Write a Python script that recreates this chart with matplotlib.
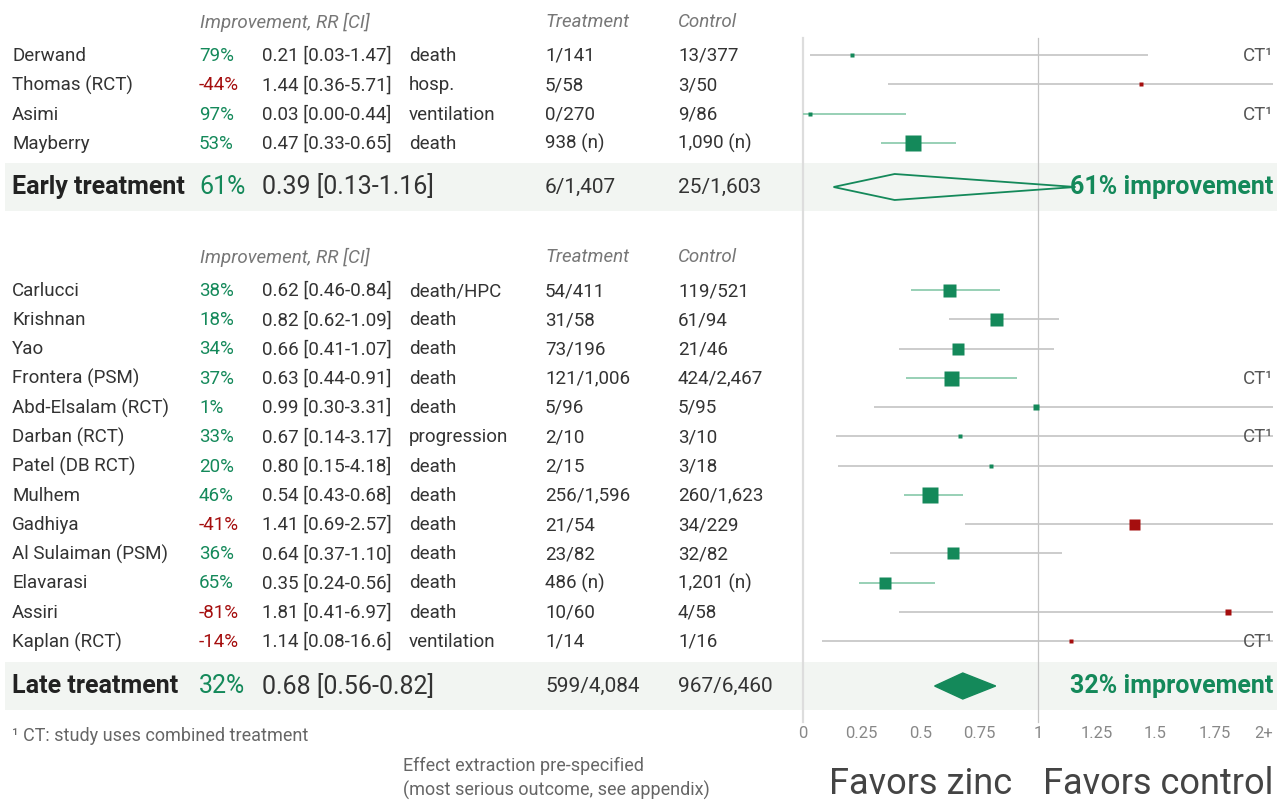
import matplotlib
matplotlib.use("Agg")
from matplotlib import pyplot as plt
from matplotlib.patches import Polygon

plt.rcParams['font.family'] = ['Roboto', 'DejaVu Sans']

# early treatment studies
early_names = ["Derwand", "Thomas (RCT)", "Asimi", "Mayberry"]
early_rr = [0.21, 1.44, 0.03, 0.47]
early_lo = [0.03, 0.36, 0.00, 0.33]
early_hi = [1.47, 5.71, 0.44, 0.65]
early_outcome = ["death", "hosp.", "ventilation", "death"]
early_treat = ["1/141", "5/58", "0/270", "938 (n)"]
early_ctrl = ["13/377", "3/50", "9/86", "1,090 (n)"]
early_ct = [True, False, True, False]
early_weight = [4, 5, 4, 16]

# late treatment studies
late_names = ["Carlucci", "Krishnan", "Yao", "Frontera (PSM)", "Abd-Elsalam (RCT)",
              "Darban (RCT)", "Patel (DB RCT)", "Mulhem", "Gadhiya", "Al Sulaiman (PSM)",
              "Elavarasi", "Assiri", "Kaplan (RCT)"]
late_rr = [0.62, 0.82, 0.66, 0.63, 0.99, 0.67, 0.80, 0.54, 1.41, 0.64, 0.35, 1.81, 1.14]
late_lo = [0.46, 0.62, 0.41, 0.44, 0.30, 0.14, 0.15, 0.43, 0.69, 0.37, 0.24, 0.41, 0.08]
late_hi = [0.84, 1.09, 1.07, 0.91, 3.31, 3.17, 4.18, 0.68, 2.57, 1.10, 0.56, 6.97, 16.6]
late_outcome = ["death/HPC", "death", "death", "death", "death", "progression", "death",
                "death", "death", "death", "death", "death", "ventilation"]
late_treat = ["54/411", "31/58", "73/196", "121/1,006", "5/96", "2/10", "2/15",
              "256/1,596", "21/54", "23/82", "486 (n)", "10/60", "1/14"]
late_ctrl = ["119/521", "61/94", "21/46", "424/2,467", "5/95", "3/10", "3/18",
             "260/1,623", "34/229", "32/82", "1,201 (n)", "4/58", "1/16"]
late_ct = [False, False, False, True, False, True, False, False, False, False, False, False, True]
late_weight = [13, 13, 12, 15, 6, 5, 5, 16, 11, 12, 12, 6, 4]

# pooled results
summary_names = ["Early treatment", "Late treatment"]
summary_rr = [0.39, 0.68]
summary_lo = [0.13, 0.56]
summary_hi = [1.16, 0.82]
summary_treat = ["6/1,407", "599/4,084"]
summary_ctrl = ["25/1,603", "967/6,460"]

ticks = [0, 0.25, 0.5, 0.75, 1, 1.25, 1.5, 1.75, 2]
tick_labels = ["0", "0.25", "0.5", "0.75", "1", "1.25", "1.5", "1.75", "2+"]

GREEN = "#14895a"
RED = "#a50e0e"
TXT = "#333333"
GREY = "#777777"
LGREEN = "#86c8a9"
LGREY = "#c4c4c4"
BAND = "#f2f5f2"

W, H = 1277, 800
X0, PX = 803, 235.0   # pixel of RR=0 and pixels per RR unit
FS = 13.5


def px(p):
    # convert a horizontal pixel position to RR units
    return (p - X0) / PX


def fmt_ci(v):
    return "%.3g" % v if v >= 10 else "%.2f" % v


fig = plt.figure(figsize=(W / 100, H / 100), dpi=100)
ax = fig.add_axes([0, 0, 1, 1])
ax.set_xlim(px(0), px(W))
ax.set_ylim(H, 0)
ax.axis("off")

# background bands for summaries
for yb in (187, 686):
    ax.axhspan(yb - 24, yb + 24, xmin=5 / W, xmax=1, color=BAND, zorder=0, lw=0)

# reference lines
ax.plot([0, 0], [38, 722], color="#dddddd", lw=1.6, zorder=1)
ax.plot([1, 1], [38, 722], color="#c4c4c4", lw=0.9, zorder=1)


def header(y):
    ax.text(px(200), y, "Improvement, RR [CI]", style="italic", color=GREY, fontsize=FS, va="center")
    ax.text(px(545), y, "Treatment", style="italic", color=GREY, fontsize=FS, va="center")
    ax.text(px(678), y, "Control", style="italic", color=GREY, fontsize=FS, va="center")


def study_rows(y0, names, rr, lo, hi, outcome, treat, ctrl, ct, weight):
    for i in range(len(names)):
        y = y0 + 29.25 * i
        ty = y + 1
        imp = round((1 - rr[i]) * 100)
        col = GREEN if imp >= 0 else RED
        ax.text(px(12), ty, names[i], color=TXT, fontsize=FS, va="center")
        ax.text(px(199), ty, "%d%%" % imp, color=col, fontsize=FS, va="center")
        ax.text(px(262), ty, "%.2f [%s-%s]" % (rr[i], fmt_ci(lo[i]), fmt_ci(hi[i])),
                color=TXT, fontsize=FS, va="center")
        ax.text(px(409), ty, outcome[i], color=TXT, fontsize=FS, va="center")
        ax.text(px(545), ty, treat[i], color=TXT, fontsize=FS, va="center")
        ax.text(px(678), ty, ctrl[i], color=TXT, fontsize=FS, va="center")
        lc = LGREEN if hi[i] < 1 else LGREY
        ax.plot([lo[i], min(hi[i], 2)], [y, y], color=lc, lw=1.2, zorder=2, solid_capstyle="butt")
        ax.plot(rr[i], y, marker="s", ms=weight[i] * 0.72, color=col, mec="none", zorder=3)
        if ct[i]:
            ax.text(2, ty, "CT\u00b9", color="#555555", fontsize=13.5, ha="right", va="center", zorder=4)


def summary_row(y, k, filled):
    imp = round((1 - summary_rr[k]) * 100)
    ax.text(px(12), y, summary_names[k], color="#222222", fontsize=18, weight="bold", va="center")
    ax.text(px(199), y, "%d%%" % imp, color=GREEN, fontsize=18, va="center")
    ax.text(px(262), y, "%.2f [%.2f-%.2f]" % (summary_rr[k], summary_lo[k], summary_hi[k]),
            color=TXT, fontsize=18, va="center")
    ax.text(px(545), y, summary_treat[k], color=TXT, fontsize=15, va="center")
    ax.text(px(678), y, summary_ctrl[k], color=TXT, fontsize=15, va="center")
    pts = [(summary_lo[k], y), (summary_rr[k], y - 13), (summary_hi[k], y), (summary_rr[k], y + 13)]
    if filled:
        ax.add_patch(Polygon(pts, closed=True, fc=GREEN, ec=GREEN, lw=1, zorder=3))
    else:
        ax.add_patch(Polygon(pts, closed=True, fill=False, ec=GREEN, lw=1.3, zorder=3))
    ax.text(2, y, "%d%% improvement" % imp, color=GREEN, fontsize=18, weight="bold",
            ha="right", va="center", zorder=4)


header(22)
study_rows(55, early_names, early_rr, early_lo, early_hi, early_outcome,
           early_treat, early_ctrl, early_ct, early_weight)
summary_row(187, 0, False)

header(257)
study_rows(290, late_names, late_rr, late_lo, late_hi, late_outcome,
           late_treat, late_ctrl, late_ct, late_weight)
summary_row(686, 1, True)

# axis tick labels
for t, lab in zip(ticks, tick_labels):
    ax.text(t, 733, lab, color="#888888", fontsize=12, ha="right" if lab == "2+" else "center", va="center")

ax.text(px(1012), 784, "Favors zinc", color="#444444", fontsize=26, ha="right", va="center")
ax.text(px(1043), 784, "Favors control", color="#444444", fontsize=26, ha="left", va="center")

ax.text(px(12), 736, "\u00b9 CT: study uses combined treatment", color="#666666", fontsize=13, va="center")
ax.text(px(403), 766, "Effect extraction pre-specified", color="#666666", fontsize=13, va="center")
ax.text(px(403), 790, "(most serious outcome, see appendix)", color="#666666", fontsize=13, va="center")

fig.savefig("out.png", dpi=100, facecolor="white")
